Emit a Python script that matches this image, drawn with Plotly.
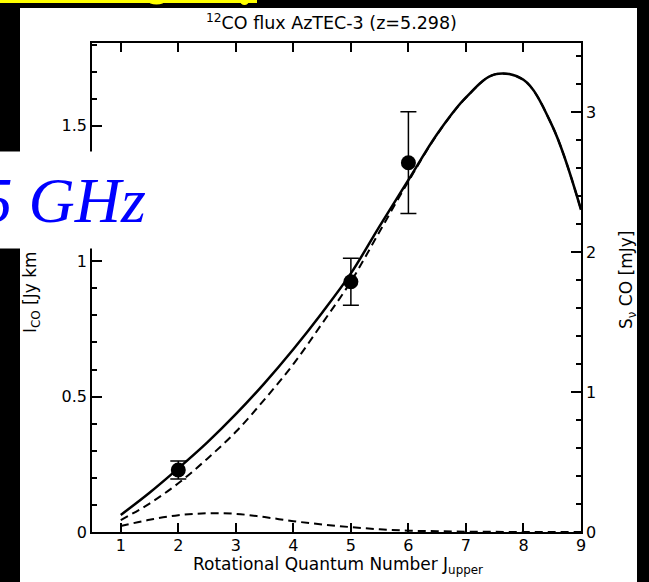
import plotly.graph_objects as go

# ---------------- data ----------------
J_model = [1, 1.5, 2, 2.5, 3, 3.5, 4, 4.5, 5, 5.5, 6, 6.5, 7, 7.5, 8, 8.5, 9]
I_total = [0.063, 0.145, 0.235, 0.33, 0.435, 0.55, 0.675, 0.81, 0.955, 1.13, 1.30,
           1.47, 1.605, 1.69, 1.67, 1.50, 1.19]
I_high = [0.044, 0.105, 0.18, 0.27, 0.37, 0.49, 0.62, 0.77, 0.925, 1.11, 1.295,
          1.468, 1.604, 1.69, 1.67, 1.50, 1.19]
I_low = [0.022, 0.045, 0.062, 0.069, 0.067, 0.055, 0.040, 0.028, 0.018, 0.010, 0.005,
         0.003, 0.001, 0.0005, 0.0, 0.0, 0.0]

J_obs = [2, 5, 6]
I_obs = [0.229, 0.924, 1.364]
I_err = [0.033, 0.087, 0.188]

x_ticks = [1, 2, 3, 4, 5, 6, 7, 8, 9]

title_text = "<sup>12</sup>CO flux AzTEC-3 (z=5.298)"
xtitle_text = "Rotational Quantum Number J<sub>upper</sub>"
ytitle_text = "I<sub>CO</sub> [Jy km s<sup>-1</sup>]"
y2title_text = "S<sub>ν</sub> CO [mJy]"
overlay_text = "5 GHz"

# ---------------- geometry helpers (pixel -> paper) ----------------
W, H = 649, 582
L, R, T, B = 92, 581, 43, 532
PW, PH = R - L, B - T


def px(x):
    return (x - L) / PW


def py(y):
    return (B - y) / PH


FONT = "DejaVu Sans"

fig = go.Figure()

fig.add_trace(go.Scatter(x=J_model, y=I_total, mode="lines", line=dict(color="black", width=2.5, shape="spline"),
                         showlegend=False, hoverinfo="skip"))
fig.add_trace(go.Scatter(x=J_model, y=I_high, mode="lines",
                         line=dict(color="black", width=2, dash="8px,5px", shape="spline"),
                         showlegend=False, hoverinfo="skip"))
fig.add_trace(go.Scatter(x=J_model, y=I_low, mode="lines",
                         line=dict(color="black", width=2, dash="8px,5px", shape="spline"),
                         showlegend=False, hoverinfo="skip"))
fig.add_trace(go.Scatter(x=J_obs, y=I_obs, mode="markers",
                         marker=dict(color="black", size=15),
                         error_y=dict(type="data", array=I_err, color="black", thickness=1.5, width=8),
                         showlegend=False))
# invisible trace to activate right axis
fig.add_trace(go.Scatter(x=[None], y=[None], yaxis="y2", showlegend=False))

axis_common = dict(showgrid=False, zeroline=False, showline=True, linecolor="black", linewidth=1.5,
                   ticks="inside", tickcolor="black", tickwidth=1.5,
                   tickfont=dict(family=FONT, size=16, color="black"))

fig.update_layout(
    width=W, height=H,
    margin=dict(l=L, r=W - R, t=T, b=H - B, pad=0),
    paper_bgcolor="black",
    plot_bgcolor="white",
    xaxis=dict(range=[0.5, 9], tickmode="array", tickvals=x_ticks, ticklen=9, mirror="ticks",
               ticklabelstandoff=-2, **axis_common),
    yaxis=dict(range=[0, 1.806], tickmode="linear", tick0=0, dtick=0.5, ticklen=10,
               minor=dict(tickmode="linear", tick0=0, dtick=0.1, ticks="inside", ticklen=5,
                          tickwidth=1.5, tickcolor="black"),
               **axis_common),
    yaxis2=dict(range=[0, 3.493], overlaying="y", side="right", tickmode="linear", tick0=0, dtick=1,
                ticklen=10,
                minor=dict(tickmode="linear", tick0=0, dtick=0.2, ticks="inside", ticklen=5,
                           tickwidth=1.5, tickcolor="black"),
                **axis_common),
    shapes=[
        dict(type="rect", xref="paper", yref="paper", x0=px(20), x1=px(637), y0=py(582), y1=py(8),
             fillcolor="white", line=dict(width=0), layer="below"),
        dict(type="rect", xref="paper", yref="paper", x0=px(0), x1=px(257), y0=py(3), y1=py(0),
             fillcolor="#ffff00", line=dict(width=0), layer="above"),
        dict(type="circle", xref="paper", yref="paper", x0=px(148), x1=px(165), y0=py(4.5), y1=py(-3),
             fillcolor="#ffff00", line=dict(width=0), layer="above"),
        dict(type="circle", xref="paper", yref="paper", x0=px(240), x1=px(249), y0=py(5), y1=py(-3),
             fillcolor="#ffff00", line=dict(width=0), layer="above"),
    ],
    annotations=[
        dict(text=title_text, xref="paper", yref="paper", x=px(331), y=py(22), xanchor="center",
             yanchor="middle", showarrow=False, font=dict(family=FONT, size=17.5, color="black")),
        dict(text=xtitle_text, xref="paper", yref="paper", x=px(338), y=py(565), xanchor="center",
             yanchor="middle", showarrow=False, font=dict(family=FONT, size=17, color="black")),
        dict(text=ytitle_text, xref="paper", yref="paper", x=px(30), y=py(276), xanchor="center",
             yanchor="middle", textangle=-90, showarrow=False, font=dict(family=FONT, size=17, color="black")),
        dict(text=y2title_text, xref="paper", yref="paper", x=px(627), y=py(280), xanchor="center",
             yanchor="middle", textangle=-90, showarrow=False, font=dict(family=FONT, size=17, color="black")),
        dict(text=overlay_text, xref="paper", yref="paper", x=px(147), y=py(200), xanchor="right",
             yanchor="middle", width=200, height=96, align="right", valign="middle", borderpad=0,
             bgcolor="white", showarrow=False,
             font=dict(family="Liberation Serif", size=64, color="#0000ff", style="italic")),
    ],
)

fig.write_html(
    "out.html",
    config={"displayModeBar": False},
    post_script="document.body.style.margin='0';document.body.style.overflow='hidden';document.body.style.background='black';",
)
